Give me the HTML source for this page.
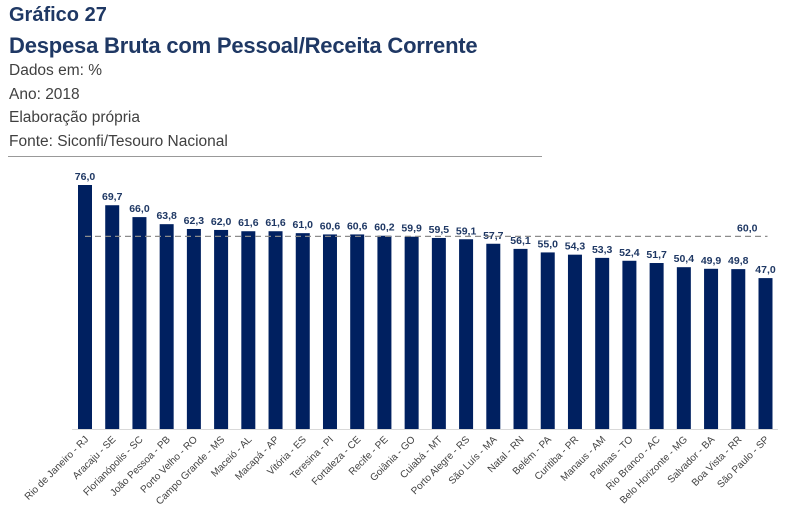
<!DOCTYPE html>
<html><head><meta charset="utf-8"><style>
body{margin:0;width:787px;height:509px;background:#fff;overflow:hidden;font-family:"Liberation Sans",sans-serif;}
.h{position:absolute;left:9px;color:#1f3864;font-weight:bold;font-size:20px;white-space:nowrap;}
.s{position:absolute;left:9px;color:#404040;font-size:15.5px;white-space:nowrap;}
</style></head><body>
<div class="h" style="top:4px">Gráfico 27</div>
<div class="h" style="top:33px;font-size:22px;letter-spacing:-0.2px">Despesa Bruta com Pessoal/Receita Corrente</div>
<div class="s" style="top:62px">Dados em: %</div>
<div class="s" style="top:86px">Ano: 2018</div>
<div class="s" style="top:109px">Elaboração própria</div>
<div class="s" style="top:133px">Fonte: Siconfi/Tesouro Nacional</div>
<div style="position:absolute;left:8px;top:156px;width:534px;height:1px;background:#999"></div>
<svg id="chart" width="787" height="509" style="position:absolute;left:0;top:0"></svg>
<script>
const categories=["Rio de Janeiro - RJ","Aracaju - SE","Florianópolis - SC","João Pessoa - PB","Porto Velho - RO","Campo Grande - MS","Maceió - AL","Macapá - AP","Vitória - ES","Teresina - PI","Fortaleza - CE","Recife - PE","Goiânia - GO","Cuiabá - MT","Porto Alegre - RS","São Luís - MA","Natal - RN","Belém - PA","Curitiba - PR","Manaus - AM","Palmas - TO","Rio Branco - AC","Belo Horizonte - MG","Salvador - BA","Boa Vista - RR","São Paulo - SP"];
const values=[76.0,69.7,66.0,63.8,62.3,62.0,61.6,61.6,61.0,60.6,60.6,60.2,59.9,59.5,59.1,57.7,56.1,55.0,54.3,53.3,52.4,51.7,50.4,49.9,49.8,47.0];
const limitValue=[60.0];
const svg=document.getElementById('chart');
const NS='http://www.w3.org/2000/svg';
const base=429,scale=244/76,x0=78,pitch=27.22,bw=14;
const x=i=>x0+i*pitch;
const y=v=>base-v*scale;
const fmt=v=>v.toFixed(1).replace('.',',');
function mk(t,a){const e=document.createElementNS(NS,t);for(const k in a)e.setAttribute(k,a[k]);svg.appendChild(e);return e;}
const ax=mk('line',{x1:72,x2:778,y1:base+0.5,y2:base+0.5,stroke:'#d9d9d9','stroke-width':1});


values.forEach((v,i)=>{
  const r=mk('rect',{x:x(i),y:y(v),width:bw,height:base-y(v),fill:'#002060'});
  
  
  const t=mk('text',{x:x(i)+bw/2,y:y(v)-5,'text-anchor':'middle','font-size':'10.5','font-weight':'bold',fill:'#1f3864'});
  t.textContent=fmt(v);
  
  
  const cx=x(i)+bw/2+4,cy=base+11;
  const l=mk('text',{x:cx,y:cy,'text-anchor':'end','font-size':'10',fill:'#404040',transform:`rotate(-45 ${cx} ${cy})`});
  l.textContent=categories[i];
  
  
});
const ly=y(limitValue[0]);
const ln=mk('line',{x1:x(0)+bw/2,x2:x(values.length-1)+bw/2+2,y1:ly,y2:ly,stroke:'#8c8c8c','stroke-width':1.3,'stroke-dasharray':'6,4'});


const lt=mk('text',{x:x(values.length-2)+bw/2+9,y:ly-5,'text-anchor':'middle','font-size':'10.5','font-weight':'bold',fill:'#1f3864'});
lt.textContent=fmt(limitValue[0]);


</script>
</body></html>
